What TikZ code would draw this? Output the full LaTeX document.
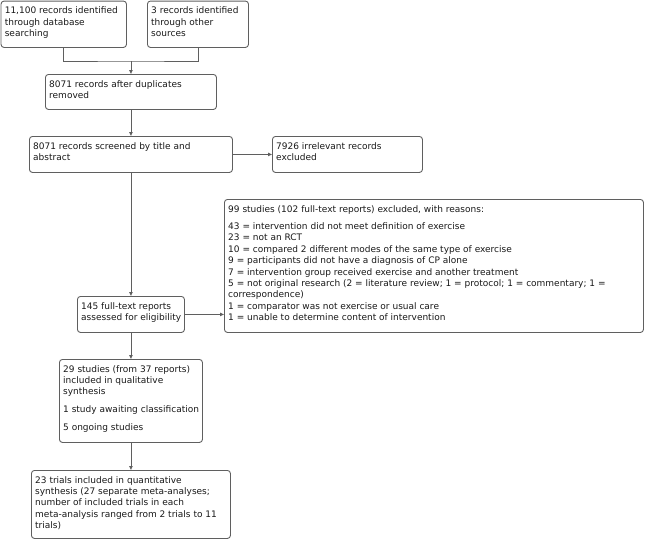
\documentclass[tikz,border=0pt]{standalone}
\usepackage{fontspec}
\setmainfont{DejaVu Sans}
\usetikzlibrary{arrows.meta}
\definecolor{edge}{RGB}{95,95,95}
\definecolor{ink}{RGB}{25,25,25}
\tikzset{
  box/.style={draw=edge, line width=0.9pt, rounded corners=3pt, rectangle, inner sep=0pt, anchor=north west},
  txt/.style={anchor=base west, inner sep=0pt, text=ink, font=\fontsize{9}{11.4}\selectfont},
  conn/.style={draw=edge, line width=0.9pt},
  arr/.style={conn, -{Triangle[length=4pt,width=3.4pt]}, shorten >=0pt},
}
\newcommand{\mybox}[6]{% name, x1, y1, x2, y2, text
  \node[box, minimum width={(#4-#2)*1pt}, minimum height={(#5-#3)*1pt}] (#1) at (#2,#3) {};
  \node[txt] (#1t) at (#2+4,#3+13) {\begin{tabular}[t]{@{}l@{}}#6\end{tabular}};
}
\begin{document}
\begin{tikzpicture}[x=1pt,y=-1pt]
\useasboundingbox (0,0) rectangle (646,539);
\mybox{b1}{0.6}{0.6}{126}{47}{11,100 records identified\\through database\\searching}
\mybox{b2}{147}{0.6}{248}{47}{3 records identified\\through other\\sources}
\mybox{b3}{45}{74}{216}{109}{8071 records after duplicates\\removed}
\mybox{b4}{29}{136}{232}{172}{8071 records screened by title and\\abstract}
\mybox{b5}{272}{136}{422}{172}{7926 irrelevant records\\excluded}
\mybox{b6}{77}{296}{184}{332}{145 full-text reports\\assessed for eligibility}
\mybox{b7}{224}{199}{643}{332}{99 studies (102 full-text reports) excluded, with reasons:\\[6pt]
43 = intervention did not meet definition of exercise\\
23 = not an RCT\\
10 = compared 2 different modes of the same type of exercise\\
9 = participants did not have a diagnosis of CP alone\\
7 = intervention group received exercise and another treatment\\
5 = not original research (2 = literature review; 1 = protocol; 1 = commentary; 1 =\\
correspondence)\\
1 = comparator was not exercise or usual care\\
1 = unable to determine content of intervention}
\mybox{b8}{59}{359}{202}{442}{29 studies (from 37 reports)\\included in qualitative\\synthesis\\[6.5pt]
1 study awaiting classification\\[6.5pt]
5 ongoing studies}
\mybox{b9}{31}{470}{230}{538}{23 trials included in quantitative\\synthesis (27 separate meta-analyses;\\number of included trials in each\\meta-analysis ranged from 2 trials to 11\\trials)}
\coordinate (j) at (b3.north |- 0,61);
\draw[conn] (b1.south) |- (j) -| (b2.south);
\draw[arr] (j) -- (b3.north);
\draw[arr] (b3.south) -- (b4.north);
\draw[arr] (b4.east) -- (b5.west);
\draw[arr] (b4.south) -- (b6.north);
\draw[arr] (b6.east) -- (b6.east -| b7.west);
\draw[arr] (b6.south) -- (b8.north);
\draw[arr] (b8.south) -- (b9.north);
\end{tikzpicture}
\end{document}
